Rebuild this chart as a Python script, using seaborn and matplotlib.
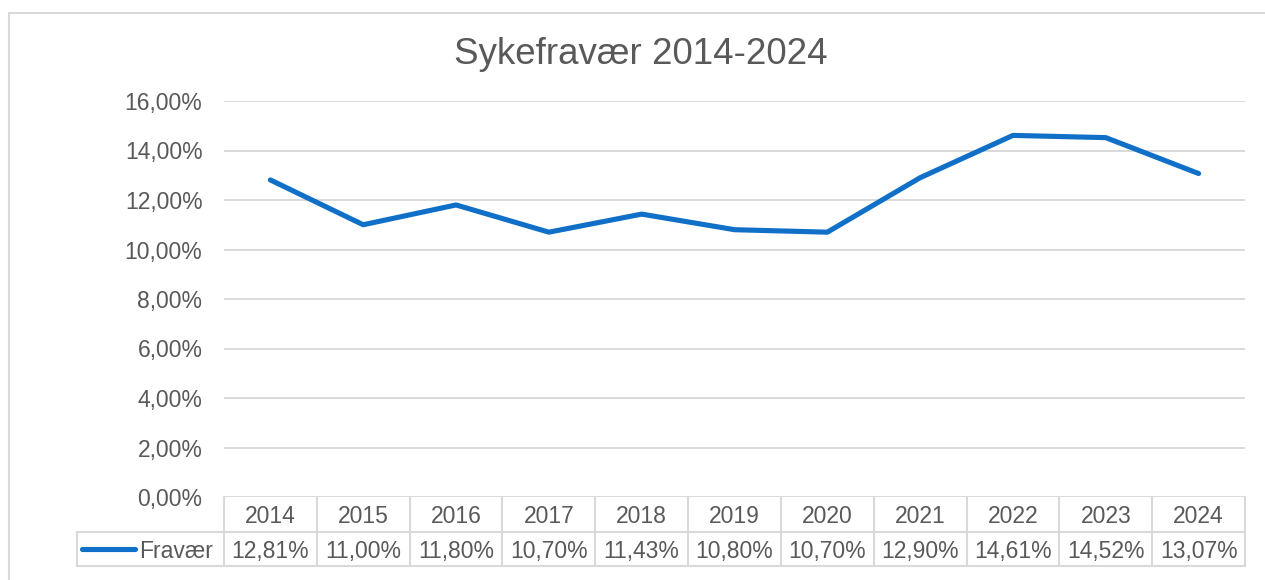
import matplotlib
matplotlib.use("Agg")
import matplotlib.pyplot as plt
import matplotlib.transforms as mtransforms
from matplotlib.patches import Rectangle
from matplotlib.lines import Line2D
import seaborn as sns
import pandas as pd

years = ["2014", "2015", "2016", "2017", "2018", "2019", "2020", "2021", "2022", "2023", "2024"]
fravaer = [12.81, 11.00, 11.80, 10.70, 11.43, 10.80, 10.70, 12.90, 14.61, 14.52, 13.07]
y_ticks = [0, 2, 4, 6, 8, 10, 12, 14, 16]
title = "Sykefravær 2014-2024"
series_name = "Fravær"

sns.set_theme(style="white")
plt.rcParams["font.family"] = ["Liberation Sans", "DejaVu Sans"]

TXT = "#595959"
GRID = "#D9D9D9"
LINE = "#1070C8"
FS = 16.5

W, H = 1265, 580
fig = plt.figure(figsize=(W / 100, H / 100), dpi=100)
fig.patch.set_facecolor("white")

L, R, T, B = 224, 1245, 101, 497
ax = fig.add_axes([L / W, (H - B) / H, (R - L) / W, (B - T) / H])

df = pd.DataFrame({"idx": range(len(years)), "val": fravaer})
sns.lineplot(data=df, x="idx", y="val", ax=ax, color=LINE, linewidth=3.7,
             solid_capstyle="round", solid_joinstyle="round", zorder=3)

ax.set_xlim(-0.5, len(years) - 0.5)
ax.set_ylim(y_ticks[0], y_ticks[-1])
ax.set_yticks(y_ticks)
ax.set_yticklabels([f"{v:.2f}".replace(".", ",") + "%" for v in y_ticks],
                   fontsize=FS, color=TXT)
ax.tick_params(axis="y", length=0, pad=15.5)
ax.set_xticks([])
ax.set_xlabel("")
ax.set_ylabel("")
for s in ax.spines.values():
    s.set_visible(False)
for v in y_ticks:
    ax.axhline(v, color=GRID, lw=1.4, zorder=1)

# data table
trans = mtransforms.blended_transform_factory(ax.transData, ax.transAxes)
ph = B - T
row_h = 34.5 / ph
n = len(years)
tl = dict(color=GRID, lw=1.5, clip_on=False, zorder=2)
ax.add_line(Line2D([-0.5, n - 0.5], [-row_h, -row_h], transform=trans, **tl))
ax.add_line(Line2D([-0.5, n - 0.5], [-2 * row_h, -2 * row_h], transform=trans, **tl))
leg_left = (77 - L) / (R - L)
axt = ax.transAxes
ax.add_line(Line2D([leg_left, 0], [-row_h, -row_h], transform=axt, **tl))
ax.add_line(Line2D([leg_left, 0], [-2 * row_h, -2 * row_h], transform=axt, **tl))
ax.add_line(Line2D([leg_left, leg_left], [-row_h, -2 * row_h], transform=axt, **tl))
for i in range(n + 1):
    ax.add_line(Line2D([i - 0.5, i - 0.5], [0, -2 * row_h], transform=trans, **tl))
off = 2.5 / ph
for i, (yr, v) in enumerate(zip(years, fravaer)):
    ax.text(i, -0.5 * row_h - off, yr, transform=trans, ha="center", va="center",
            fontsize=FS, color=TXT)
    ax.text(i, -1.5 * row_h - off, f"{v:.2f}".replace(".", ",") + "%", transform=trans,
            ha="center", va="center", fontsize=FS, color=TXT)
ax.add_line(Line2D([(82 - L) / (R - L), (135 - L) / (R - L)], [-1.5 * row_h, -1.5 * row_h],
                   transform=axt, color=LINE, lw=3.7, solid_capstyle="round",
                   clip_on=False))
ax.text((139 - L) / (R - L), -1.5 * row_h - off, series_name, transform=axt, ha="left",
        va="center", fontsize=FS, color=TXT)

fig.text(641 / W, 1 - 55 / H, title, ha="center", va="center", fontsize=26.5, color=TXT)

fig.add_artist(Rectangle((9 / W, -0.1), 1.2, (H - 13) / H + 0.1, transform=fig.transFigure,
                         fill=False, edgecolor=GRID, lw=1.5))

fig.savefig("out.png", dpi=100, facecolor="white")
